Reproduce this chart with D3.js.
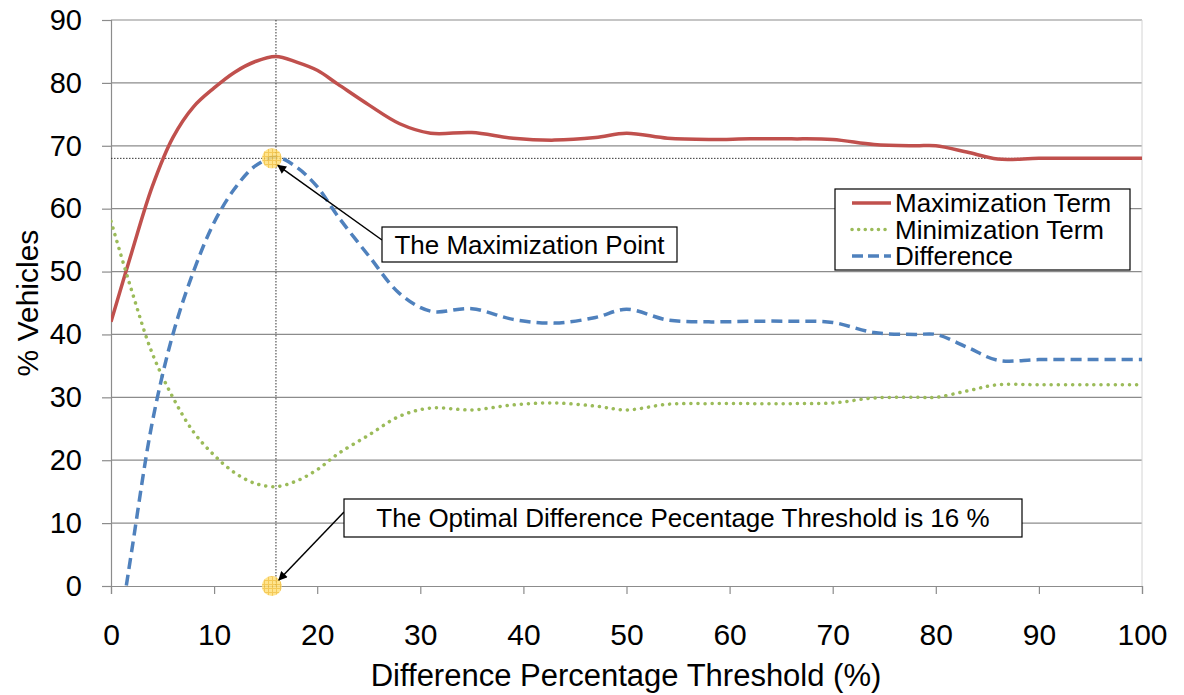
<!DOCTYPE html>
<html>
<head>
<meta charset="utf-8">
<script src="https://cdn.jsdelivr.net/npm/d3@7"></script>
<style>
  body { margin: 0; background: #fff; }
  text { font-family: "Liberation Sans", Arial, sans-serif; fill: #000; }
</style>
</head>
<body>
<script>
// threshold values (x) and the three series
var thresholds = [0, 2, 4, 6, 8, 10, 12, 14, 16, 18, 20, 22, 25, 28, 31, 35, 39, 43, 47, 50,
    54, 58, 62, 66, 70, 74, 78, 80, 83, 86, 90, 95, 100];
var maxTerm = [42, 53, 63.5, 71.3, 76.2, 79.2, 81.7, 83.4, 84.2, 83.3, 82, 79.8, 76.5, 73.5, 72, 72.1, 71.2, 70.9, 71.3, 72,
    71.2, 71, 71.1, 71.1, 71, 70.2, 70, 70, 69, 67.9, 68, 68, 68];
var minTerm = [58, 47, 37, 30, 24.5, 20.8, 18, 16.3, 15.8, 16.7, 18.5, 21, 24, 27, 28.3, 28, 28.8, 29.1, 28.6, 28,
    28.9, 29, 29, 29, 29.1, 29.9, 30, 30, 31, 32, 32, 32, 32];
var difference = [-16, 5.5, 26, 40, 50, 57.8, 63.2, 66.8, 68.2, 66.6, 63.5, 58.8, 52.5, 46.5, 43.7, 44.1, 42.4, 41.8, 42.7, 44,
    42.3, 42, 42.1, 42.1, 41.9, 40.3, 40, 40, 38, 35.9, 36, 36, 36];

var seriesNames = ["Maximization Term", "Minimization Term", "Difference"];
var xTicks = [0, 10, 20, 30, 40, 50, 60, 70, 80, 90, 100];
var yTicks = [0, 10, 20, 30, 40, 50, 60, 70, 80, 90];

var optimalX = 16, optimalY = 68;
var markerX = 15.6;

var w = 1184, h = 695;
var plotLeft = 111, plotRight = 1142, plotTop = 20, plotBottom = 586;

var svg = d3.select("body").append("svg")
    .attr("width", w)
    .attr("height", h);

var x = d3.scaleLinear().domain([0, 100]).range([plotLeft, plotRight]);
var y = d3.scaleLinear().domain([0, 90]).range([plotBottom, plotTop]);

var defs = svg.append("defs");
defs.append("clipPath").attr("id", "plot")
    .append("rect")
    .attr("x", plotLeft).attr("y", plotTop)
    .attr("width", plotRight - plotLeft).attr("height", plotBottom - plotTop);

defs.append("marker")
    .attr("id", "arrow")
    .attr("viewBox", "0 0 10 10")
    .attr("refX", 9).attr("refY", 5)
    .attr("markerWidth", 10).attr("markerHeight", 9)
    .attr("markerUnits", "userSpaceOnUse")
    .attr("orient", "auto")
    .append("path")
    .attr("d", "M0,0 L10,5 L0,10 z")
    .attr("fill", "#000");

var pat = defs.append("pattern")
    .attr("id", "grid")
    .attr("width", 4).attr("height", 4)
    .attr("patternUnits", "userSpaceOnUse");
pat.append("rect").attr("width", 4).attr("height", 4).attr("fill", "#ffdf7a");
pat.append("path").attr("d", "M0,0.5 H4 M0.5,0 V4").attr("stroke", "#f2bf3a").attr("stroke-width", 1);

// gridlines
svg.append("g").selectAll("line")
    .data(yTicks.slice(1))
    .enter().append("line")
    .attr("x1", plotLeft).attr("x2", plotRight)
    .attr("y1", function(d) { return y(d); })
    .attr("y2", function(d) { return y(d); })
    .attr("stroke", "#8c8c8c")
    .attr("stroke-width", 1.2);

// right border of plot area
svg.append("line")
    .attr("x1", plotRight).attr("x2", plotRight)
    .attr("y1", plotTop).attr("y2", plotBottom)
    .attr("stroke", "#d4d4d4");

// y axis
var yAxis = svg.append("g")
    .attr("transform", "translate(" + plotLeft + ",0)")
    .call(d3.axisLeft(y).tickValues(yTicks).tickSize(9).tickPadding(20));
yAxis.select(".domain").attr("stroke", "#8c8c8c").attr("stroke-width", 1.2);
yAxis.selectAll(".tick line").attr("stroke", "#8c8c8c").attr("stroke-width", 1.2);
yAxis.selectAll("text")
    .style("font-family", "'Liberation Sans', Arial, sans-serif")
    .style("font-size", "29px")
    .attr("fill", "#000");

// x axis
var xAxis = svg.append("g")
    .attr("transform", "translate(0," + plotBottom + ")")
    .call(d3.axisBottom(x).tickValues(xTicks).tickSize(8).tickPadding(30));
xAxis.select(".domain").attr("stroke", "#8c8c8c").attr("stroke-width", 1.2);
xAxis.selectAll(".tick line").attr("stroke", "#8c8c8c").attr("stroke-width", 1.2);
xAxis.selectAll("text")
    .style("font-family", "'Liberation Sans', Arial, sans-serif")
    .style("font-size", "30px")
    .attr("fill", "#000");

// axis titles
svg.append("text")
    .attr("x", 626)
    .attr("y", 686)
    .attr("text-anchor", "middle")
    .style("font-size", "31px")
    .text("Difference Percentage Threshold (%)");

svg.append("text")
    .attr("transform", "translate(38,303) rotate(-90)")
    .attr("text-anchor", "middle")
    .style("font-size", "30px")
    .text("% Vehicles");

// reference dotted lines
svg.append("line")
    .attr("x1", x(optimalX)).attr("x2", x(optimalX))
    .attr("y1", plotTop).attr("y2", plotBottom)
    .attr("stroke", "#333").attr("stroke-width", 1)
    .attr("stroke-dasharray", "1.5,1.5");
svg.append("line")
    .attr("x1", plotLeft).attr("x2", plotRight)
    .attr("y1", y(optimalY)).attr("y2", y(optimalY))
    .attr("stroke", "#333").attr("stroke-width", 1)
    .attr("stroke-dasharray", "1.5,1.5");

// series
var line = d3.line()
    .x(function(d, i) { return x(thresholds[i]); })
    .y(function(d) { return y(d); })
    .curve(d3.curveCatmullRom.alpha(0.5));

var series = [
    { name: seriesNames[0], values: maxTerm, color: "#c0504d", dash: null },
    { name: seriesNames[1], values: minTerm, color: "#9bbb59", dash: "0.1,7" },
    { name: seriesNames[2], values: difference, color: "#4f81bd", dash: "11,6" }
];

var plot = svg.append("g").attr("clip-path", "url(#plot)");
plot.selectAll("path")
    .data(series)
    .enter().append("path")
    .attr("d", function(d) { return line(d.values); })
    .attr("fill", "none")
    .attr("stroke", function(d) { return d.color; })
    .attr("stroke-width", 3.5)
    .attr("stroke-linecap", function(d) { return d.dash === "0.1,7" ? "round" : "butt"; })
    .attr("stroke-dasharray", function(d) { return d.dash; });

// highlighted points
svg.selectAll("circle.pt")
    .data([optimalY, 0])
    .enter().append("circle")
    .attr("class", "pt")
    .attr("cx", x(markerX))
    .attr("cy", function(d) { return y(d); })
    .attr("r", 10)
    .attr("fill", "url(#grid)")
    .attr("opacity", 0.85);

// annotations
function callout(bx, by, bw, bh, label, fromX, fromY, toX, toY) {
    svg.append("line")
        .attr("x1", fromX).attr("y1", fromY)
        .attr("x2", toX).attr("y2", toY)
        .attr("stroke", "#000").attr("stroke-width", 1.5)
        .attr("marker-end", "url(#arrow)");
    svg.append("rect")
        .attr("x", bx).attr("y", by)
        .attr("width", bw).attr("height", bh)
        .attr("fill", "#fff").attr("stroke", "#000").attr("stroke-width", 1.2);
    svg.append("text")
        .attr("x", bx + bw / 2).attr("y", by + bh / 2 + 9)
        .attr("text-anchor", "middle")
        .style("font-size", "26px")
        .text(label);
}

callout(382, 227, 295, 35, "The Maximization Point", 382, 240, x(markerX) + 6, y(optimalY) + 7);
callout(344, 499, 678, 38, "The Optimal Difference Pecentage Threshold is 16 %", 344, 512, x(markerX) + 7, plotBottom - 6);

// legend
var legend = svg.append("g");
legend.append("rect")
    .attr("x", 835).attr("y", 189)
    .attr("width", 295).attr("height", 81)
    .attr("fill", "#fff").attr("stroke", "#000").attr("stroke-width", 1.2);

var items = legend.selectAll("g.item")
    .data(series)
    .enter().append("g")
    .attr("class", "item")
    .attr("transform", function(d, i) { return "translate(0," + (203 + i * 26.5) + ")"; });
items.append("line")
    .attr("x1", 852).attr("x2", 891)
    .attr("stroke", function(d) { return d.color; })
    .attr("stroke-width", 3.5)
    .attr("stroke-linecap", function(d) { return d.dash === "0.1,7" ? "round" : "butt"; })
    .attr("stroke-dasharray", function(d) { return d.dash === "0.1,7" ? "0.1,6.5" : (d.dash ? "11,5" : null); });
items.append("text")
    .attr("x", 895).attr("y", 9)
    .style("font-size", "26px")
    .text(function(d) { return d.name; });
</script>
</body>
</html>
